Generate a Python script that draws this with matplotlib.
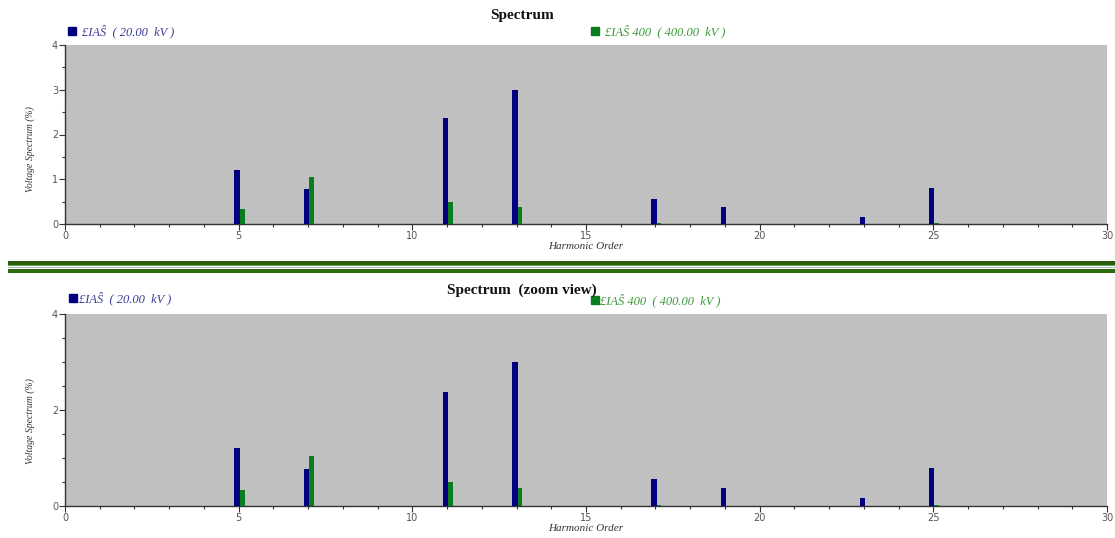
import matplotlib
matplotlib.use("Agg")
import matplotlib.pyplot as plt
from matplotlib.patches import Rectangle
from matplotlib.ticker import MultipleLocator

# harmonic orders and spectra (%)
orders = [5, 7, 11, 13, 17, 19, 23, 25]
spec_20kv = [1.21, 0.78, 2.37, 2.99, 0.56, 0.38, 0.16, 0.80]
spec_400kv = [0.34, 1.05, 0.49, 0.38, 0.02, 0.0, 0.0, 0.03]

label_20kv = "\u00a3IA\u015c  ( 20.00  kV )"
label_400kv = "\u00a3IA\u015c 400  ( 400.00  kV )"

blue = "#000080"
green = "#0a7d1e"
plot_bg = "#c0c0c0"
serif = "Liberation Serif"

W, H = 1115, 538
fig = plt.figure(figsize=(W / 100, H / 100), dpi=100)


def fx(px):
    return px / W


def fy(py):
    return 1 - py / H


def draw_panel(top, bottom, yticks, title, title_y, ylab_y, leg):
    ax = fig.add_axes([fx(65), fy(bottom), fx(1107) - fx(65), fy(top) - fy(bottom)])
    ax.set_facecolor(plot_bg)
    ax.bar([o - 0.12 for o in orders], spec_20kv, width=0.15, align="edge",
           color=blue, zorder=3)
    ax.bar([o + 0.03 for o in orders], spec_400kv, width=0.14, align="edge",
           color=green, zorder=3)
    ax.set_xlim(0, 30)
    ax.set_ylim(0, 4)
    ax.xaxis.set_major_locator(MultipleLocator(5))
    ax.xaxis.set_minor_locator(MultipleLocator(1))
    ax.set_yticks(yticks)
    ax.yaxis.set_minor_locator(MultipleLocator(0.5))
    for s in ["top", "right"]:
        ax.spines[s].set_visible(False)
    for s in ["left", "bottom"]:
        ax.spines[s].set_color("#333333")
        ax.spines[s].set_linewidth(1.0)
    ax.tick_params(which="major", length=4, width=0.8, color="#333333",
                   labelsize=7, labelcolor="#555555", pad=1)
    ax.tick_params(which="minor", length=2, width=0.8, color="#333333")
    ax.set_xlabel("Harmonic Order", family=serif, style="italic",
                  fontsize=8, color="#333333", labelpad=1)
    ax.set_ylabel("Voltage Spectrum (%)", family=serif, style="italic",
                  fontsize=7, color="#333333")
    ax.yaxis.set_label_coords(-0.029, ylab_y)

    fig.text(title[1], fy(title_y), title[0], family=serif, weight="bold",
             fontsize=11, ha="center", va="center", color="#111111")

    # legend entries drawn as a square plus text
    for (sx, sy, tx, text, c, tc) in leg:
        fig.add_artist(Rectangle((fx(sx), fy(sy + 8)), fx(8), fy(0) - fy(8),
                                 transform=fig.transFigure, color=c))
        fig.text(fx(tx), fy(sy + 4), text, family=serif, style="italic",
                 fontsize=9, color=tc, ha="left", va="center")
    return ax


draw_panel(45, 224, [0, 1, 2, 3, 4], ("Spectrum", fx(522)), 16, 0.42,
           [(68, 27, 82, label_20kv, blue, "#3c3c96"),
            (591, 27, 605, label_400kv, green, "#3a9a3a")])
draw_panel(314, 506, [0, 2, 4], ("Spectrum  (zoom view)", fx(522)), 290, 0.44,
           [(69, 294, 79, label_20kv, blue, "#3c3c96"),
            (591, 296, 600, label_400kv, green, "#3a9a3a")])

# separator bands between the panels
for (y0, y1, c) in [(260.5, 264.5, "#2d5b0c"), (264.5, 266, "#5cae4c"),
                    (266.5, 268, "#b8b8b8"), (269, 273, "#2d6b0c")]:
    fig.add_artist(Rectangle((fx(8), fy(y1)), 1 - fx(8), fy(y0) - fy(y1),
                             transform=fig.transFigure, color=c, lw=0))

fig.savefig("out.png", dpi=100, facecolor="white")
